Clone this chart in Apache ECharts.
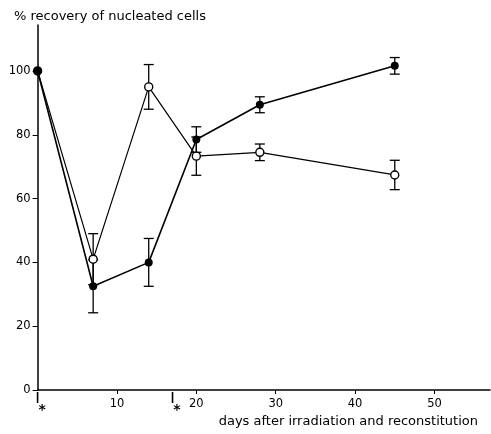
<!DOCTYPE html>
<html><head><meta charset="utf-8">
<script src="https://cdn.jsdelivr.net/npm/echarts@6/dist/echarts.min.js"></script>
<style>html,body{margin:0;padding:0;background:#fff}#c{width:491px;height:434px}</style>
</head><body><div id="c"></div>
<script>
const days = [0, 7, 14, 20, 28, 45];
const filledVals = [100, 32.5, 40, 78.5, 89.4, 101.6];
const filledErr  = [0, 8.3, 7.5, 4, 2.5, 2.6];
const openVals   = [100, 41, 95, 73.3, 74.5, 67.4];
const openErr    = [0, 8, 7, 6, 2.6, 4.6];
const yTicks = [0, 20, 40, 60, 80, 100];
const xTicks = [10, 20, 30, 40, 50];
const markerDays = [0, 17];

const font = 'DejaVu Sans';
function errData(vals, errs){ return days.map((d,i)=>[d, vals[i]-errs[i], vals[i]+errs[i]]).filter((r,i)=>errs[i]>0); }
function errSeries(vals, errs){
  return {type:'custom', z:1, data: errData(vals, errs),
    renderItem(params, api){
      const lo = api.coord([api.value(0), api.value(1)]);
      const hi = api.coord([api.value(0), api.value(2)]);
      const w = 5;
      const st = {stroke:'#000', lineWidth:1.3};
      return {type:'group', children:[
        {type:'line', shape:{x1:lo[0],y1:lo[1],x2:hi[0],y2:hi[1]}, style:st},
        {type:'line', shape:{x1:lo[0]-w,y1:lo[1],x2:lo[0]+w,y2:lo[1]}, style:st},
        {type:'line', shape:{x1:hi[0]-w,y1:hi[1],x2:hi[0]+w,y2:hi[1]}, style:st}
      ]};
    }};
}
const chart = echarts.init(document.getElementById('c'));
chart.setOption({
  animation:false,
  title:{text:'% recovery of nucleated cells', left:9, top:5,
    textStyle:{fontFamily:font, fontSize:13, fontWeight:'normal', color:'#000'}},
  grid:{left:37.6, right:1, top:25, bottom:44},
  xAxis:{type:'value', min:0, max:57,
    name:'days after irradiation and reconstitution', nameLocation:'end', nameGap:0,
    nameTextStyle:{fontFamily:font, fontSize:13, color:'#000', align:'right', verticalAlign:'top', padding:[25,12,0,0]},
    axisLine:{lineStyle:{color:'#000', width:1.5}},
    splitLine:{show:false},
    axisTick:{show:true, length:4, customValues:xTicks, lineStyle:{color:'#000', width:1}},
    axisLabel:{customValues:xTicks, fontFamily:font, fontSize:11.5, color:'#000', margin:8}
  },
  yAxis:{type:'value', min:0, max:114.4,
    axisLine:{show:true, lineStyle:{color:'#000', width:1.5}},
    splitLine:{show:false},
    axisTick:{show:true, length:5, customValues:yTicks, lineStyle:{color:'#000', width:1}},
    axisLabel:{customValues:yTicks, fontFamily:font, fontSize:11.5, color:'#000', margin:7}
  },
  series:[
    errSeries(filledVals, filledErr),
    errSeries(openVals, openErr),
    {type:'line', z:3, data: days.map((d,i)=>[d, openVals[i]]),
      symbol:'circle', symbolSize:8, showAllSymbol:true,
      lineStyle:{color:'#000', width:1.2},
      itemStyle:{color:'#fff', borderColor:'#000', borderWidth:1.4}},
    {type:'line', z:4, data: days.map((d,i)=>[d, filledVals[i]]),
      symbol:'circle', symbolSize:8, showAllSymbol:true,
      lineStyle:{color:'#000', width:1.6},
      itemStyle:{color:'#000'}},
    {type:'custom', z:5, clip:false, data: markerDays.map(d=>[d]),
      renderItem(params, api){
        const p = api.coord([api.value(0), 0]);
        return {type:'group', children:[
          {type:'line', shape:{x1:p[0],y1:p[1]+2,x2:p[0],y2:p[1]+13}, style:{stroke:'#000', lineWidth:1.6}},
          {type:'text', x:p[0]+4.5, y:p[1]+20, style:{text:'*', fontFamily:font, fontSize:14, fontWeight:'bold', fill:'#000', align:'center', verticalAlign:'middle'}}
        ]};
      }}
  ]
});
</script></body></html>
